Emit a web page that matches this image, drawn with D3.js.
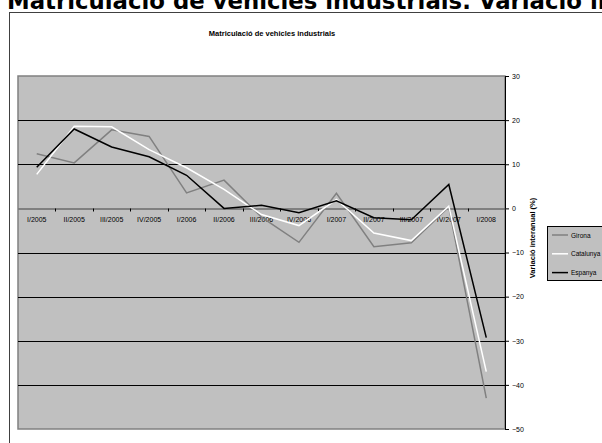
<!DOCTYPE html>
<html><head><meta charset="utf-8">
<script src="https://cdn.jsdelivr.net/npm/d3@7"></script>
<style>
html,body{margin:0;padding:0;background:#fff;overflow:hidden;}
svg{display:block;}
</style></head>
<body>
<script>
const categories = ["I/2005","II/2005","III/2005","IV/2005","I/2006","II/2006","III/2006","IV/2006","I/2007","II/2007","III/2007","IV/2007","I/2008"];
const girona    = [12.4, 10.3, 17.8, 16.3, 3.5, 6.4, -2.0, -7.7, 3.4, -8.7, -7.8, 0.3, -43.0];
const catalunya = [7.7, 18.6, 18.5, 13.3, 9.2, 4.3, -1.4, -3.9, 2.0, -5.6, -7.3, 0.5, -37.0];
const espanya   = [9.3, 18.0, 13.9, 11.7, 7.5, 0.0, 0.7, -1.0, 1.7, -2.1, -2.6, 5.4, -29.3];
const seriesNames = ["Girona","Catalunya","Espanya"];
const seriesColors = ["#808080","#ffffff","#000000"];
const yTicks = [30,20,10,0,-10,-20,-30,-40,-50];
const mainTitle = "Matriculació de vehicles industrials. Variació interanual (%)";
const chartTitle = "Matriculació de vehicles industrials";
const yTitle = "Variació interanual (%)";

const W = 602, H = 443;
const svg = d3.select("body").append("svg").attr("width", W).attr("height", H);

// page title (cut by the top edge, as in the original page)
svg.append("text").attr("x", 7).attr("y", 9)
  .attr("font-family", "DejaVu Sans, Verdana, sans-serif").attr("font-weight", "bold")
  .attr("font-size", 22.8).attr("fill", "#000").text(mainTitle);

// chart frame
svg.append("rect").attr("x", 9.5).attr("y", 12.5).attr("width", 700).attr("height", 500)
  .attr("fill", "#fff").attr("stroke", "#404040").attr("stroke-width", 1);

const plot = {left: 18, right: 505, top: 76, bottom: 429};
const x = d3.scaleBand().domain(categories).range([plot.left, plot.right]).padding(0);
const y = d3.scaleLinear().domain([-50, 30]).range([plot.bottom, plot.top]);

svg.append("text").attr("x", 272).attr("y", 36).attr("text-anchor", "middle")
  .attr("font-family", "Liberation Sans, Arial, sans-serif").attr("font-weight", "bold")
  .attr("font-size", 7.5).text(chartTitle);

// plot area
svg.append("rect").attr("x", plot.left).attr("y", plot.top)
  .attr("width", plot.right - plot.left).attr("height", plot.bottom - plot.top)
  .attr("fill", "#c0c0c0").attr("stroke", "#808080").attr("stroke-width", 1.5);

// gridlines
svg.append("g").selectAll("line").data(yTicks.filter(d => d !== 30 && d !== -50 && d !== 0)).join("line")
  .attr("x1", plot.left).attr("x2", plot.right)
  .attr("y1", d => Math.round(y(d)) + 0.5).attr("y2", d => Math.round(y(d)) + 0.5)
  .attr("stroke", "#000").attr("stroke-width", 1);

// right value axis
const yAxis = d3.axisRight(y).tickValues(yTicks).tickSize(4).tickPadding(3).tickFormat(d3.format("d"));
const ya = svg.append("g").attr("transform", `translate(${plot.right},0)`).call(yAxis);
ya.select(".domain").attr("stroke", "#000");
ya.selectAll(".tick line").attr("stroke", "#000");
ya.selectAll("text").attr("font-family", "Liberation Sans, Arial, sans-serif").attr("font-size", 7).attr("fill", "#000");

// category axis at 0
const zeroY = Math.round(y(0)) + 0.5;
const xAxis = d3.axisBottom(x).tickSize(0).tickPadding(9);
const xa = svg.append("g").attr("transform", `translate(0,${zeroY})`).call(xAxis);
xa.select(".domain").attr("stroke", "#404040");
xa.selectAll("text").attr("font-family", "Liberation Sans, Arial, sans-serif").attr("font-size", 7).attr("fill", "#000");
// tick marks between categories
svg.append("g").selectAll("line").data(categories.slice(1)).join("line")
  .attr("x1", d => Math.round(x(d)) + 0.5).attr("x2", d => Math.round(x(d)) + 0.5)
  .attr("y1", zeroY).attr("y2", zeroY + 3).attr("stroke", "#000");

// lines
const allSeries = [girona, catalunya, espanya];
const line = d3.line().x((d, i) => x(categories[i]) + x.bandwidth() / 2).y(d => y(d));
allSeries.forEach((s, k) => {
  svg.append("path").datum(s).attr("d", line).attr("fill", "none")
    .attr("stroke", seriesColors[k]).attr("stroke-width", 1.5).attr("stroke-linejoin", "miter");
});

// y title
svg.append("text").attr("transform", "translate(535,238) rotate(-90)").attr("text-anchor", "middle")
  .attr("font-family", "Liberation Sans, Arial, sans-serif").attr("font-weight", "bold")
  .attr("font-size", 7.5).text(yTitle);

// legend
const lg = svg.append("g");
lg.append("rect").attr("x", 547.5).attr("y", 226.5).attr("width", 80).attr("height", 54)
  .attr("fill", "#c0c0c0").attr("stroke", "#000").attr("stroke-width", 1);
seriesNames.forEach((n, k) => {
  const yy = 235 + k * 18.8;
  lg.append("line").attr("x1", 552).attr("x2", 568).attr("y1", yy).attr("y2", yy)
    .attr("stroke", seriesColors[k]).attr("stroke-width", 1.5);
  lg.append("text").attr("x", 571).attr("y", yy + 2.5)
    .attr("font-family", "Liberation Sans, Arial, sans-serif").attr("font-size", 6.5).text(n);
});
</script>
</body></html>
